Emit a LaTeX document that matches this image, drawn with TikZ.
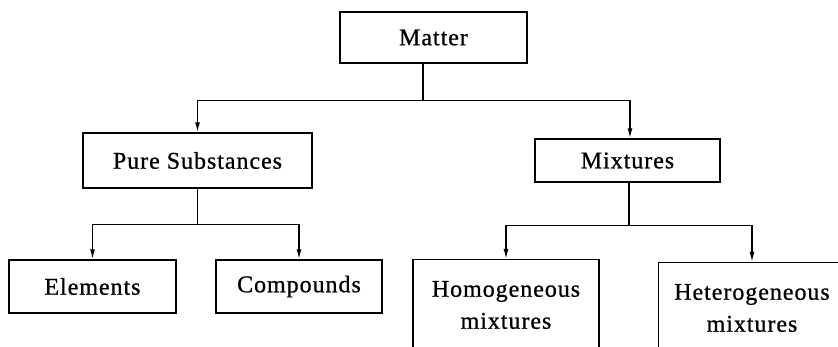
\documentclass[tikz,border=0pt]{standalone}
\usepackage{fontspec}
\setmainfont{Liberation Serif}[LetterSpace=4,FakeBold=0.8]
\usetikzlibrary{arrows.meta}
\begin{document}
\begin{tikzpicture}[x=1pt,y=-1pt,
  box/.style={draw, line width=1.4pt, rectangle, inner sep=0pt, font=\fontsize{24}{32}\selectfont, align=center},
  txt/.style={inner sep=0pt, font=\fontsize{24}{32}\selectfont, align=center},
  conn/.style={line width=1.4pt},
  arr/.style={conn,-{Latex[length=10pt,width=5pt]}}]
\useasboundingbox (0,0) rectangle (838,347);
\clip (0,0) rectangle (838,347);
\node[box, minimum width=187pt, minimum height=51pt] (matter) at (433.5,37.5) {Matter};
\node[box, minimum width=229pt, minimum height=55pt] (pure) at (197.5,160.5) {Pure Substances};
\node[box, minimum width=185pt, minimum height=43pt] (mix) at (627.5,160.5) {Mixtures};
\node[box, minimum width=167pt, minimum height=53pt] (elem) at (92.5,286.5) {Elements};
\node[box, minimum width=166pt, minimum height=53pt] (comp) at (299,286.5) {Compounds};
\node[box, anchor=north, minimum width=186pt, minimum height=120pt] (homo) at (506,259) {};
\node[txt] (homotext) at (506,305) {Homogeneous\\mixtures};
\node[box, anchor=north west, minimum width=190pt, minimum height=120pt] (hetero) at (658,262) {};
\node[txt] (heterotext) at (752,308) {Heterogeneous\\mixtures};
% connectors
\draw[conn] ([xshift=-10.5pt]matter.south) -- ++(0,37) coordinate (j1);
\draw[arr] (j1) -| (pure.north);
\draw[arr] (j1) -| ([xshift=2.5pt]mix.north);
\draw[conn] (pure.south) -- ++(0,36) coordinate (j2);
\draw[arr] (j2) -| (elem.north);
\draw[arr] (j2) -| (comp.north);
\draw[conn] ([xshift=1.5pt]mix.south) -- ++(0,43) coordinate (j3);
\draw[arr] (j3) -| (homo.north);
\draw[arr] (j3) -| (hetero.north -| heterotext.north);
\end{tikzpicture}
\end{document}
